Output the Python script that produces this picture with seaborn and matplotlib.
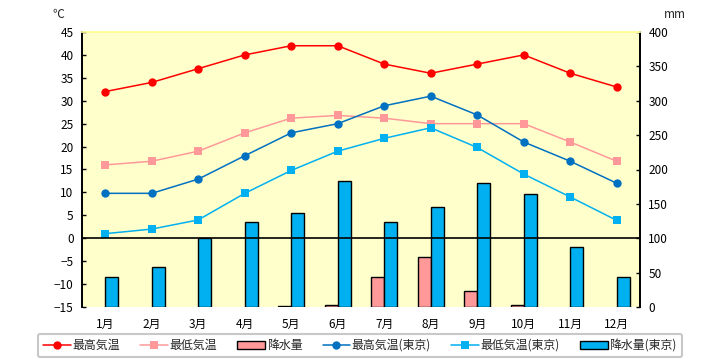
import matplotlib
matplotlib.use("Agg")
import matplotlib.pyplot as plt
from matplotlib.lines import Line2D
from matplotlib.patches import Patch
import seaborn as sns
import pandas as pd

sns.set_theme(style="white")
plt.rcParams['font.family'] = ['Noto Sans CJK JP', 'DejaVu Sans']

months = ["1月", "2月", "3月", "4月", "5月", "6月", "7月", "8月", "9月", "10月", "11月", "12月"]

# 気温 (℃)
max_temp = [32, 34, 37, 40, 42, 42, 38, 36, 38, 40, 36, 33]
min_temp = [16, 16.8, 19, 23, 26.2, 26.8, 26.2, 25, 25, 25, 21, 16.8]
max_temp_tokyo = [9.8, 9.8, 12.9, 18, 23, 25, 28.9, 31, 26.9, 21, 16.8, 12]
min_temp_tokyo = [1, 2, 4, 9.8, 14.8, 19, 21.8, 24.1, 19.8, 14, 9, 3.9]

# 降水量 (mm)
rain = [0, 0, 0, 0, 2, 3, 44, 73, 24, 3, 0, 0]
rain_tokyo = [44, 58, 100, 124, 137, 184, 124, 146, 180, 164, 88, 44]

c_max = "#FF0000"
c_min = "#FF9999"
c_max_tk = "#0070C0"
c_min_tk = "#00B0F0"
c_rain = "#FF9999"
c_rain_tk = "#00B0F0"

fig = plt.figure(figsize=(7.2, 3.6), dpi=100)
ax = fig.add_axes([82 / 720, 1 - 307 / 360, (640 - 82) / 720, (307 - 32) / 360])
ax.set_facecolor("#FFFFCC")

# bars on the mm scale
rain_df = pd.DataFrame({
    "month": months * 2,
    "mm": rain + rain_tokyo,
    "series": ["降水量"] * 12 + ["降水量(東京)"] * 12,
})
sns.barplot(data=rain_df, x="month", y="mm", hue="series", ax=ax,
            palette=[c_rain, c_rain_tk], saturation=1, width=0.55, gap=0,
            edgecolor="black", linewidth=1, legend=False)
# empty months: no outline
for p in ax.patches:
    if p.get_height() == 0:
        p.set_visible(False)
ax.set_ylim(0, 400)
ax.set_yticks(range(0, 401, 50))
ax.yaxis.tick_right()
ax.set_xlim(-0.5, 11.5)
ax.set_xlabel("")
ax.set_ylabel("")

# temperatures on the ℃ scale
ax2 = ax.twinx()
ax2.patch.set_visible(False)
x = list(range(12))
line_kw = dict(markersize=6, markeredgewidth=0, lw=1.1)
sns.lineplot(x=x, y=max_temp, ax=ax2, color=c_max, marker="o", **line_kw)
sns.lineplot(x=x, y=min_temp, ax=ax2, color=c_min, marker="s", **line_kw)
sns.lineplot(x=x, y=max_temp_tokyo, ax=ax2, color=c_max_tk, marker="o", **line_kw)
sns.lineplot(x=x, y=min_temp_tokyo, ax=ax2, color=c_min_tk, marker="s", **line_kw)
ax2.axhline(0, color="black", lw=1.2)
ax2.set_ylim(-15, 45)
ax2.set_yticks(range(-15, 46, 5))
ax2.yaxis.tick_left()
ax2.set_xlim(-0.5, 11.5)

ax.set_xticks(x)
ax.set_xticklabels(months)

for a in (ax, ax2):
    a.tick_params(axis="y", direction="in", length=3, width=1, color="black",
                  labelsize=8.5, pad=6, labelcolor="black")
    a.tick_params(axis="x", length=0, labelsize=8.5, pad=8, labelcolor="black")
    a.spines["bottom"].set_visible(False)
    a.spines["top"].set_color("#FFFF99")
    a.spines["left"].set_color("black")
    a.spines["right"].set_color("black")
    a.grid(False)
ax2.tick_params(axis="y", left=True, right=False, labelleft=True, labelright=False)
ax.tick_params(axis="y", left=False, right=True, labelleft=False, labelright=True)

fig.text(52 / 720, 1 - 15 / 360, "℃", fontsize=8.5, ha="left", va="center")
fig.text(664 / 720, 1 - 14 / 360, "mm", fontsize=8.5, ha="left", va="center")

handles = [
    Line2D([], [], color=c_max, marker="o", **line_kw),
    Line2D([], [], color=c_min, marker="s", **line_kw),
    Patch(facecolor=c_rain, edgecolor="black", linewidth=1),
    Line2D([], [], color=c_max_tk, marker="o", **line_kw),
    Line2D([], [], color=c_min_tk, marker="s", **line_kw),
    Patch(facecolor=c_rain_tk, edgecolor="black", linewidth=1),
]
labels = ["最高気温", "最低気温", "降水量", "最高気温(東京)", "最低気温(東京)", "降水量(東京)"]
leg = fig.legend(handles, labels, loc="center", bbox_to_anchor=(360 / 720, 1 - 345.5 / 360),
                 ncol=6, fontsize=8.6, frameon=True, fancybox=True, handlelength=2.3,
                 handleheight=0.6, columnspacing=1.7, handletextpad=0.15,
                 borderpad=0.45, borderaxespad=0, edgecolor="#C8C8C8", framealpha=1)
leg.get_frame().set_linewidth(1.5)

fig.savefig("out.png", dpi=100)
